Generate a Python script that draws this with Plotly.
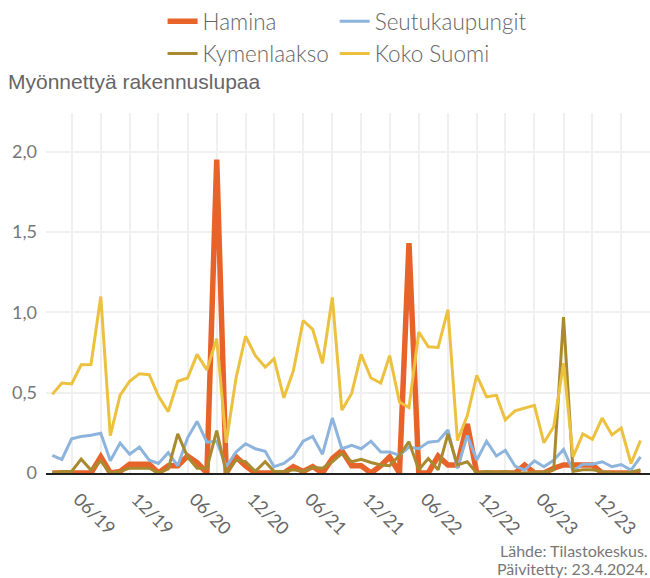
import pandas as pd
import plotly.graph_objects as go

months = pd.date_range("2019-04-01", periods=62, freq="MS")

series_names = ["Hamina", "Seutukaupungit", "Kymenlaakso", "Koko Suomi"]

hamina = [0, 0, 0, 0, 0, 0.10, 0, 0.01, 0.055, 0.055, 0.055, 0, 0.045, 0.045, 0.105, 0.065,
          0, 1.95, 0, 0.10, 0.045, 0, 0, 0, 0, 0.04, 0.01, 0.04, 0, 0.09, 0.14, 0.045,
          0.045, 0, 0.045, 0.10, 0, 1.43, 0, 0, 0.105, 0.05, 0.05, 0.305, 0, 0, 0, 0,
          0, 0.05, 0, 0, 0.03, 0.05, 0.05, 0.05, 0.05, 0, 0, 0, 0, 0]

seutukaupungit = [0.110, 0.084, 0.213, 0.227, 0.235, 0.247, 0.076, 0.186, 0.117, 0.161, 0.08,
                  0.059, 0.127, 0.045, 0.219, 0.321, 0.192, 0.198, 0.039, 0.131, 0.182, 0.151,
                  0.135, 0.039, 0.059, 0.104, 0.198, 0.227, 0.117, 0.342, 0.151, 0.172, 0.151,
                  0.198, 0.131, 0.131, 0.11, 0.161, 0.151, 0.192, 0.198, 0.268, 0.029, 0.233,
                  0.08, 0.198, 0.106, 0.141, 0.043, 0.018, 0.076, 0.039, 0.08, 0.147, 0.014,
                  0.055, 0.055, 0.07, 0.039, 0.053, 0.018, 0.10]

kymenlaakso = [0, 0.01, 0.01, 0.086, 0.018, 0.075, 0, 0.01, 0.03, 0.03, 0.03, 0, 0.025, 0.243,
               0.10, 0.03, 0.03, 0.264, 0, 0.08, 0.07, 0.01, 0.07, 0.01, 0.01, 0.02, 0.01, 0.035,
               0.03, 0.07, 0.12, 0.07, 0.085, 0.065, 0.05, 0.045, 0.11, 0.195, 0.02, 0.09, 0.02,
               0.243, 0.05, 0.07, 0, 0.01, 0.005, 0.01, 0, 0, 0.005, 0.005, 0.02, 0.97, 0.01,
               0.02, 0.02, 0.01, 0, 0, 0.005, 0.02]

koko_suomi = [0.489, 0.56, 0.554, 0.673, 0.675, 1.098, 0.233, 0.485, 0.571, 0.618, 0.612, 0.479,
              0.382, 0.571, 0.591, 0.738, 0.642, 0.836, 0.188, 0.591, 0.851, 0.730, 0.659, 0.71,
              0.468, 0.636, 0.949, 0.894, 0.683, 1.092, 0.391, 0.495, 0.738, 0.591, 0.56, 0.73,
              0.442, 0.407, 0.877, 0.785, 0.781, 1.016, 0.202, 0.356, 0.607, 0.474, 0.483, 0.331,
              0.387, 0.403, 0.421, 0.188, 0.288, 0.683, 0.10, 0.243, 0.209, 0.342, 0.237, 0.28,
              0.059, 0.202]

y_tickvals = [0, 0.5, 1.0, 1.5, 2.0]
y_ticktext = ["0", "0,5", "1,0", "1,5", "2,0"]

colors = ["#e8632a", "#8db4dc", "#a98a2f", "#ecc13f"]
widths = [5.5, 3, 3, 3]
legends = ["legend", "legend2", "legend", "legend2"]
values = [hamina, seutukaupungit, kymenlaakso, koko_suomi]

fig = go.Figure()
for name, vals, col, w, lg in zip(series_names, values, colors, widths, legends):
    fig.add_trace(go.Scatter(
        x=months, y=vals, mode="lines", name=name,
        line=dict(color=col, width=w),
        legend=lg, legendgroup=name,
    ))

legend_font = dict(family="Lato", size=22.5, color="#666666", weight=300)

fig.update_layout(
    width=650, height=578,
    margin=dict(l=46, r=0, t=108, b=105),
    plot_bgcolor="white", paper_bgcolor="white",
    font=dict(family="Lato", color="#666666"),
    title=dict(text="Myönnettyä rakennuslupaa", x=8/650, xanchor="left",
               y=1 - 82/578, yanchor="middle",
               font=dict(family="Liberation Sans", size=21, color="#666666")),
    legend=dict(x=0.193, xanchor="left", y=1.3135, yanchor="top", orientation="v",
                font=legend_font, tracegroupgap=0,
                bgcolor="rgba(0,0,0,0)"),
    legend2=dict(x=0.478, xanchor="left", y=1.3135, yanchor="top", orientation="v",
                 font=legend_font, tracegroupgap=0,
                 bgcolor="rgba(0,0,0,0)"),
    xaxis=dict(
        type="date", automargin=False,
        range=["2019-03-12", "2024-05-31"],
        tick0="2019-06-01", dtick="M6", tickformat="%m/%y",
        tickangle=45, tickfont=dict(size=18, color="#666666"),
        ticklabelshift=7, ticklabelstandoff=7,
        showgrid=True, gridcolor="#f0f0f0", gridwidth=2,
        minor=dict(tick0="2019-06-01", dtick="M3", showgrid=True,
                   gridcolor="#f0f0f0", gridwidth=2),
        showline=True, linecolor="#222222", linewidth=1.5,
        zeroline=False, ticks="",
    ),
    yaxis=dict(
        range=[0, 2.24], automargin=False,
        tickmode="array", tickvals=y_tickvals, ticktext=y_ticktext,
        tickfont=dict(size=18, color="#777777"),
        showgrid=True, gridcolor="#f0f0f0", gridwidth=2,
        zeroline=False, ticks="", ticklabelstandoff=8,
    ),
    annotations=[
        dict(text="Lähde: Tilastokeskus.", xref="paper", yref="paper",
             x=1, y=-(552 - 473) / 365, xanchor="right", yanchor="middle",
             showarrow=False, font=dict(family="Lato", size=16, color="#777777")),
        dict(text="Päivitetty: 23.4.2024.", xref="paper", yref="paper",
             x=1, y=-(570 - 473) / 365, xanchor="right", yanchor="middle",
             showarrow=False, font=dict(family="Lato", size=16, color="#777777")),
    ],
)

fig.write_html("out.html", config={"displayModeBar": False},
               post_script="document.body.style.margin='0px';")
